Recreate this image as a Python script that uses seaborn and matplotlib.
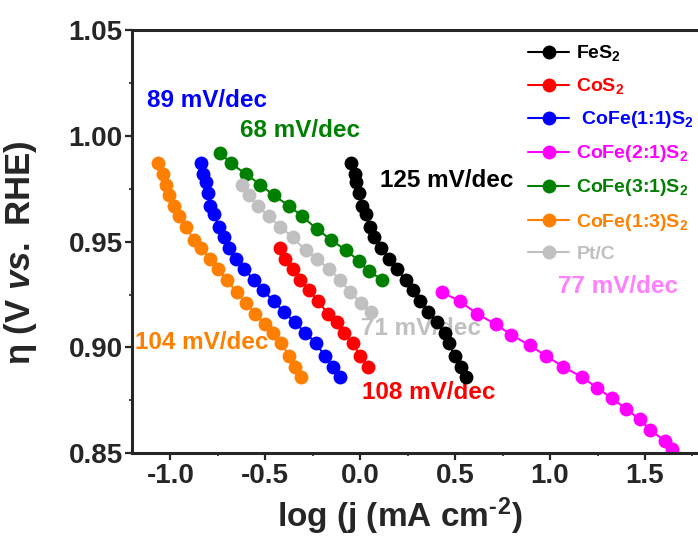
import matplotlib
matplotlib.use("Agg")
import matplotlib.pyplot as plt
from matplotlib.ticker import MultipleLocator, FormatStrFormatter
import seaborn as sns

# Tafel data: log(j) vs overpotential
fes2_x = [-0.047, -0.030, -0.025, -0.007, 0.011, 0.028, 0.049, 0.075, 0.111, 0.151, 0.193,
          0.239, 0.277, 0.316, 0.356, 0.404, 0.444, 0.467, 0.497, 0.532, 0.558]
fes2_y = [0.987, 0.982, 0.978, 0.973, 0.967, 0.963, 0.957, 0.952, 0.947, 0.942, 0.937,
          0.932, 0.927, 0.922, 0.917, 0.912, 0.907, 0.902, 0.896, 0.891, 0.886]

cos2_x = [-0.425, -0.394, -0.355, -0.316, -0.271, -0.223, -0.171, -0.123, -0.083, -0.039, 0.000, 0.040]
cos2_y = [0.947, 0.942, 0.937, 0.932, 0.927, 0.922, 0.916, 0.912, 0.907, 0.902, 0.896, 0.891]

cofe11_x = [-0.838, -0.829, -0.815, -0.803, -0.789, -0.768, -0.745, -0.720, -0.692, -0.657, -0.610,
            -0.562, -0.513, -0.457, -0.404, -0.346, -0.290, -0.232, -0.188, -0.144, -0.105]
cofe11_y = [0.987, 0.982, 0.978, 0.973, 0.967, 0.963, 0.957, 0.952, 0.947, 0.942, 0.937,
            0.932, 0.927, 0.922, 0.917, 0.912, 0.907, 0.902, 0.896, 0.891, 0.886]

cofe21_x = [0.432, 0.523, 0.614, 0.713, 0.796, 0.892, 0.980, 1.067, 1.168, 1.247, 1.326,
            1.401, 1.472, 1.528, 1.603, 1.642]
cofe21_y = [0.926, 0.922, 0.916, 0.911, 0.906, 0.901, 0.896, 0.891, 0.886, 0.881, 0.876,
            0.871, 0.866, 0.861, 0.856, 0.852]

cofe31_x = [-0.738, -0.680, -0.604, -0.527, -0.457, -0.376, -0.306, -0.229, -0.155, -0.077, -0.007, 0.045, 0.116]
cofe31_y = [0.992, 0.987, 0.982, 0.977, 0.972, 0.967, 0.962, 0.956, 0.951, 0.946, 0.941, 0.936, 0.932]

cofe13_x = [-1.066, -1.040, -1.026, -1.008, -0.982, -0.956, -0.917, -0.878, -0.838, -0.794, -0.750,
            -0.703, -0.650, -0.601, -0.552, -0.504, -0.460, -0.415, -0.376, -0.342, -0.311]
cofe13_y = [0.987, 0.982, 0.977, 0.972, 0.967, 0.962, 0.957, 0.951, 0.947, 0.942, 0.937,
            0.932, 0.926, 0.921, 0.916, 0.911, 0.907, 0.902, 0.896, 0.891, 0.886]

ptc_x = [-0.622, -0.587, -0.540, -0.482, -0.421, -0.355, -0.288, -0.229, -0.165, -0.105, -0.053, 0.005, 0.058]
ptc_y = [0.977, 0.972, 0.967, 0.962, 0.957, 0.952, 0.946, 0.942, 0.937, 0.932, 0.926, 0.921, 0.917]

labels = ["FeS$_2$", "CoS$_2$", " CoFe(1:1)S$_2$", "CoFe(2:1)S$_2$",
          "CoFe(3:1)S$_2$", "CoFe(1:3)S$_2$", "Pt/C"]
colors = ["#000000", "#ff0000", "#0000ff", "#ff00ff", "#008000", "#ff8000", "#c0c0c0"]
series = [(fes2_x, fes2_y), (cos2_x, cos2_y), (cofe11_x, cofe11_y), (cofe21_x, cofe21_y),
          (cofe31_x, cofe31_y), (cofe13_x, cofe13_y), (ptc_x, ptc_y)]

slopes = ["125 mV/dec", "108 mV/dec", "89 mV/dec", "77 mV/dec", "68 mV/dec", "104 mV/dec", "71 mV/dec"]
slope_colors = ["#000000", "#ff0000", "#0000ff", "#ff80ff", "#008000", "#ff8000", "#c0c0c0"]

sns.set_style("ticks")
plt.rcParams["font.family"] = ["Liberation Sans", "DejaVu Sans"]
plt.rcParams["font.weight"] = "bold"
plt.rcParams["mathtext.fontset"] = "custom"
plt.rcParams["mathtext.rm"] = "Liberation Sans:bold"
plt.rcParams["mathtext.bf"] = "Liberation Sans:bold"
plt.rcParams["mathtext.it"] = "Liberation Sans:bold:italic"
plt.rcParams["axes.unicode_minus"] = False

fig = plt.figure(figsize=(6.98, 5.49), dpi=100)
ax = fig.add_axes([0.1898, 0.1743, 0.8158, 0.7710])

for (xs, ys), lab, col in zip(series, labels, colors):
    sns.lineplot(x=xs, y=ys, ax=ax, color=col, label=lab, marker="o", markersize=10,
                 markeredgewidth=0, linewidth=1.5, sort=False, estimator=None)

# slope annotations (left edge, vertical centre)
text_pos = [(0.102, 0.9788), (0.007, 0.8785), (-1.121, 1.0169), (1.041, 0.9287),
            (-0.636, 1.0023), (-1.189, 0.9023), (0.005, 0.9092)]
for s, c, (tx, ty) in zip(slopes, slope_colors, text_pos):
    ax.text(tx, ty, s, color=c, fontsize=17.5, fontweight="bold", ha="left", va="center", zorder=1)

ax.set_xlim(-1.2, 1.8)
ax.set_ylim(0.85, 1.05)
ax.xaxis.set_major_locator(MultipleLocator(0.5))
ax.xaxis.set_minor_locator(MultipleLocator(0.25))
ax.yaxis.set_major_locator(MultipleLocator(0.05))
ax.yaxis.set_minor_locator(MultipleLocator(0.025))
ax.xaxis.set_major_formatter(FormatStrFormatter("%.1f"))
ax.yaxis.set_major_formatter(FormatStrFormatter("%.2f"))
ax.tick_params(axis="both", which="major", length=5, width=1.6, labelsize=20, direction="out", pad=2)
ax.tick_params(axis="both", which="minor", length=2.5, width=1.2, direction="out")
for t in ax.get_xticklabels() + ax.get_yticklabels():
    t.set_fontweight("bold")

for side in ["left", "bottom", "top"]:
    ax.spines[side].set_linewidth(2.2)
ax.spines["right"].set_visible(False)

ax.set_xlabel("log (j (mA cm$^{\u2010}$$^{2}$)", fontsize=24, fontweight="bold", labelpad=3)
ax.xaxis.set_label_coords(0.47, -0.1)
ax.xaxis.label.set_va("top")
ax.set_ylabel(r"$\mathrm{\eta}$ (V $\mathit{vs.}$ RHE)", fontsize=25, fontweight="bold")
ax.yaxis.set_label_coords(-0.165, 0.475)

leg = ax.legend(loc="upper left", bbox_to_anchor=(0.756, 0.921), bbox_transform=fig.transFigure,
                frameon=False, prop={"weight": "bold", "size": 14}, handlelength=2.15,
                handletextpad=0.35, labelspacing=0.67, borderpad=0, borderaxespad=0)
for txt, col in zip(leg.get_texts(), colors):
    txt.set_color(col)

fig.savefig("out.png", dpi=100)
